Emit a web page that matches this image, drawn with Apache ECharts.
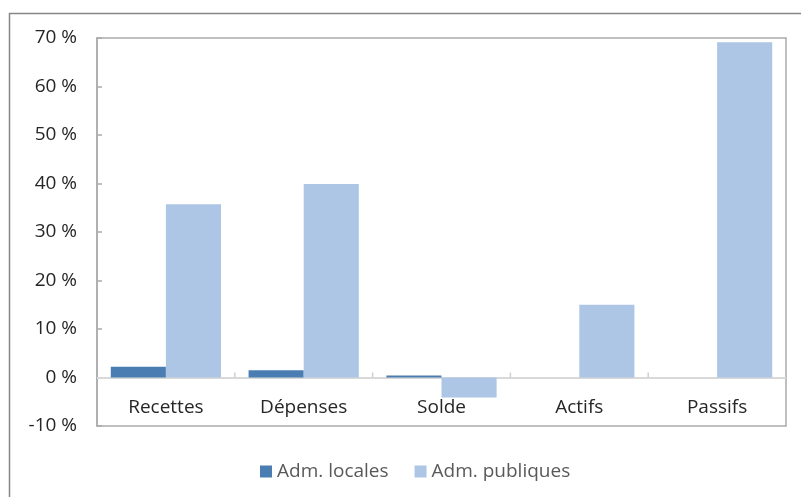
<!DOCTYPE html>
<html>
<head>
<meta charset="utf-8">
<script src="https://cdn.jsdelivr.net/npm/echarts@6/dist/echarts.min.js"></script>
<style>
  html, body { margin: 0; padding: 0; background: #fff; }
  #chart { width: 801px; height: 497px; }
</style>
</head>
<body>
<div id="chart"></div>
<script>
// Categories and series (percent)
const categories = ['Recettes', 'Dépenses', 'Solde', 'Actifs', 'Passifs'];
const admLocales = [2.2, 1.5, 0.4, 0, 0];
const admPubliques = [35.7, 39.9, -4.1, 15.0, 69.1];
const seriesNames = ['Adm. locales', 'Adm. publiques'];
const yTicks = { min: -10, max: 70, interval: 10 };
// Separators between categories, drawn as small ticks on the zero line
const categoryBoundaries = [1, 2, 3, 4];

const FONT = '"Open Sans", "Noto Sans", sans-serif';

const chart = echarts.init(document.getElementById('chart'), null, { renderer: 'canvas' });

chart.setOption({
  animation: false,
  backgroundColor: '#ffffff',
  graphic: [{
    type: 'rect',
    shape: { x: 9.5, y: 13.5, width: 900, height: 600 },
    style: { fill: 'none', stroke: '#878787', lineWidth: 1.5 },
    silent: true,
    z: -1
  }],
  grid: {
    left: 97, top: 38, width: 689, height: 388,
    show: true, borderColor: '#ababab', borderWidth: 1.5,
    backgroundColor: 'transparent'
  },
  legend: {
    data: seriesNames,
    left: 255, top: 457,
    icon: 'rect',
    itemWidth: 12, itemHeight: 12, itemGap: 26,
    textStyle: { fontFamily: FONT, fontSize: 19, color: '#595959' }
  },
  xAxis: [
    {
      type: 'category',
      data: categories,
      position: 'bottom',
      axisLine: { show: false },
      axisTick: { show: false },
      axisLabel: { margin: -28, fontFamily: FONT, fontSize: 19, color: '#262626' },
      splitLine: { show: false }
    },
    {
      type: 'value',
      min: 0, max: categories.length,
      show: false
    }
  ],
  yAxis: {
    type: 'value',
    min: yTicks.min, max: yTicks.max, interval: yTicks.interval,
    axisLine: { show: true, lineStyle: { color: '#ababab', width: 1.5 } },
    axisTick: { show: true, inside: true, length: 5, lineStyle: { color: '#ababab', width: 1.5 } },
    axisLabel: { margin: 20, fontFamily: FONT, fontSize: 19, color: '#262626', formatter: v => v + ' %' },
    splitLine: { show: false }
  },
  series: [
    {
      name: seriesNames[0], type: 'bar', data: admLocales,
      barGap: '0%', barCategoryGap: '20%',
      itemStyle: { color: '#4a7eb2' }
    },
    {
      name: seriesNames[1], type: 'bar', data: admPubliques,
      barGap: '0%', barCategoryGap: '20%',
      itemStyle: { color: '#adc6e5' },
      markLine: {
        silent: true,
        symbol: 'none',
        label: { show: false },
        lineStyle: { color: '#d9d9d9', width: 2, type: 'solid' },
        data: [{ yAxis: 0 }],
        z: 1
      }
    },
    {
      type: 'custom',
      xAxisIndex: 1,
      silent: true,
      data: categoryBoundaries,
      renderItem: function (params, api) {
        const p = api.coord([api.value(0), 0]);
        return {
          type: 'line',
          shape: { x1: p[0], y1: p[1], x2: p[0], y2: p[1] - 5 },
          style: { stroke: '#d0d0d0', lineWidth: 1.5 }
        };
      },
      encode: { x: 0 }
    }
  ]
});
</script>
</body>
</html>
